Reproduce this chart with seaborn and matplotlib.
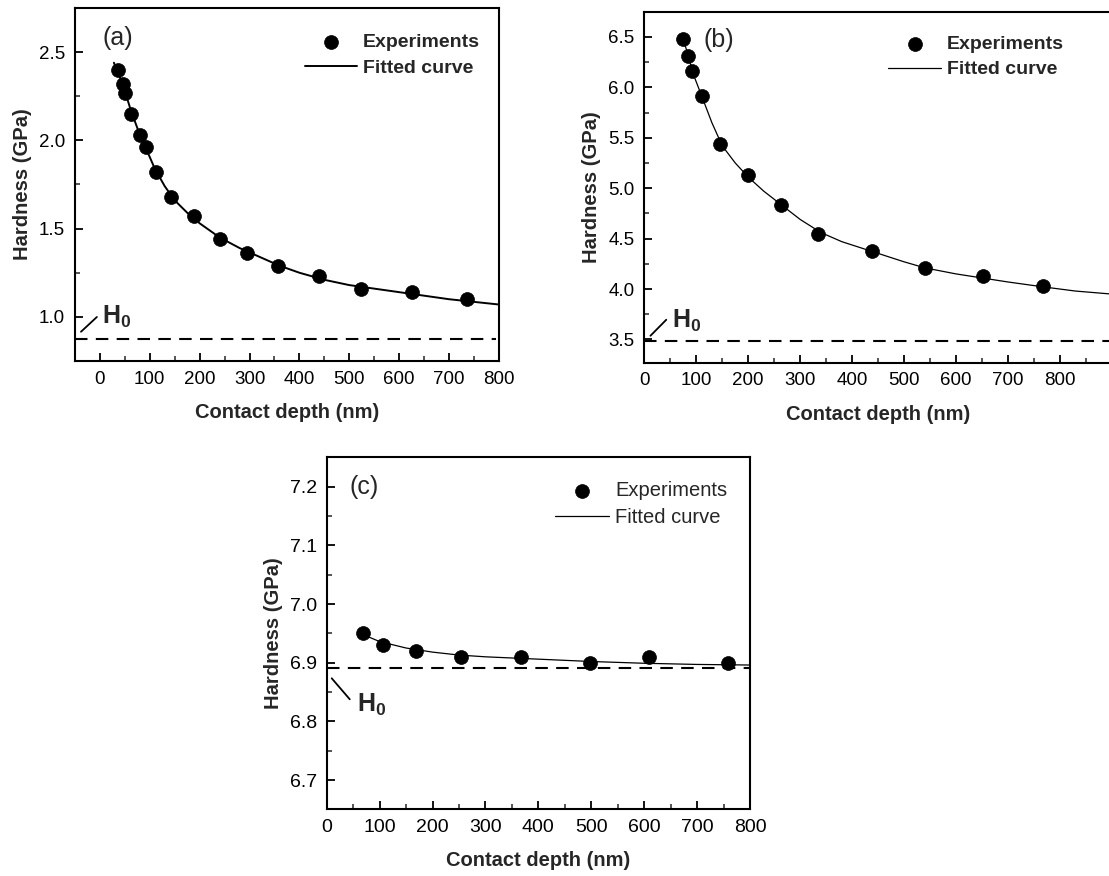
import numpy as np
import pandas as pd
import seaborn as sns
import matplotlib.pyplot as plt
from matplotlib.ticker import MultipleLocator

# ---- panel (a) ----
depth_a = [36, 47, 51, 63, 80, 92, 113, 143, 189, 240, 295, 357, 439, 523, 625, 735]
hard_a = [2.40, 2.32, 2.27, 2.15, 2.03, 1.96, 1.82, 1.68, 1.57, 1.44, 1.36, 1.29, 1.23, 1.16, 1.14, 1.10]
fit_x_a = [28, 40, 50, 62, 75, 90, 110, 130, 150, 175, 200, 240, 280, 320, 360, 400,
           450, 500, 550, 600, 650, 700, 750, 800]
fit_y_a = [2.44, 2.36, 2.28, 2.17, 2.07, 1.97, 1.84, 1.74, 1.66, 1.59, 1.53, 1.45, 1.39,
           1.34, 1.29, 1.25, 1.21, 1.18, 1.16, 1.14, 1.12, 1.10, 1.085, 1.07]
h0_a = 0.877

# ---- panel (b) ----
depth_b = [74, 84, 92, 111, 145, 199, 264, 335, 439, 540, 652, 768]
hard_b = [6.48, 6.31, 6.16, 5.91, 5.44, 5.13, 4.83, 4.55, 4.38, 4.21, 4.13, 4.03]
fit_x_b = [74, 85, 95, 110, 130, 150, 175, 200, 230, 265, 300, 340, 380, 440, 500, 540,
           600, 650, 700, 770, 830, 900]
fit_y_b = [6.50, 6.30, 6.12, 5.92, 5.65, 5.42, 5.25, 5.11, 4.97, 4.83, 4.69, 4.56, 4.47,
           4.37, 4.27, 4.21, 4.15, 4.11, 4.07, 4.02, 3.98, 3.95]
h0_b = 3.48

# ---- panel (c) ----
depth_c = [68, 107, 168, 254, 368, 497, 610, 758]
hard_c = [6.95, 6.93, 6.92, 6.91, 6.91, 6.90, 6.91, 6.90]
fit_x_c = [63, 100, 150, 200, 250, 300, 400, 500, 600, 700, 800]
fit_y_c = [6.950, 6.936, 6.925, 6.918, 6.913, 6.910, 6.906, 6.902, 6.899, 6.897, 6.896]
h0_c = 6.891

sns.set_theme(style="ticks")
plt.rcParams['font.family'] = ['Liberation Sans', 'DejaVu Sans']
plt.rcParams['mathtext.fontset'] = 'custom'
plt.rcParams['mathtext.bf'] = 'Liberation Sans:bold'
plt.rcParams['mathtext.rm'] = 'Liberation Sans'

fig = plt.figure(figsize=(11.09, 8.76), dpi=100)
ax_a = fig.add_axes([0.0676, 0.5879, 0.3823, 0.403])
ax_b = fig.add_axes([0.581, 0.586, 0.4215, 0.4007])
ax_c = fig.add_axes([0.2946, 0.0761, 0.3817, 0.4018])


def draw_panel(ax, dx, hy, fx, fy, h0, fit_lw, tick_size, h0_end=1.0):
    sns.scatterplot(x=dx, y=hy, ax=ax, color='black', s=100, edgecolor='black',
                    linewidth=0.5, label='Experiments', zorder=3)
    sns.lineplot(x=fx, y=fy, ax=ax, color='black', lw=fit_lw, estimator=None,
                 sort=False, label='Fitted curve', zorder=2)
    ax.axhline(h0, xmax=h0_end, color='black', lw=1.5, dashes=(6, 4), zorder=1)
    for s in ax.spines.values():
        s.set_linewidth(1.5)
        s.set_color('black')
    ax.tick_params(which='major', direction='in', length=6, width=1.3, pad=7,
                   labelsize=tick_size, colors='black', top=False, right=False)
    ax.tick_params(which='minor', direction='in', length=3.5, width=1.1,
                   top=False, right=False)
    ax.set_xlabel('Contact depth (nm)', fontsize=14.5, fontweight='bold', labelpad=11)
    ax.set_ylabel('Hardness (GPa)', fontsize=14.5, fontweight='bold', labelpad=5)
    ax.xaxis.set_minor_locator(MultipleLocator(50))
    ax.xaxis.set_major_locator(MultipleLocator(100))


def add_legend(ax, anchor, bold, size):
    h, l = ax.get_legend_handles_labels()
    ax.legend(h, l, loc='upper right', bbox_to_anchor=anchor, frameon=False,
              borderpad=0, handlelength=2.7, handletextpad=0.3, labelspacing=0.4,
              prop={'size': size, 'weight': 'bold' if bold else 'normal'})


# (a)
draw_panel(ax_a, depth_a, hard_a, fit_x_a, fit_y_a, h0_a, 1.4, 13.5, h0_end=0.994)
ax_a.set_xlim(-50, 800)
ax_a.set_ylim(0.75, 2.75)
ax_a.yaxis.set_minor_locator(MultipleLocator(0.25))
ax_a.set_yticks([1.0, 1.5, 2.0, 2.5])
ax_a.set_xticks(range(0, 801, 100))
add_legend(ax_a, (0.978, 0.955), True, 14)
ax_a.text(0.066, 0.95, '(a)', transform=ax_a.transAxes, fontsize=18, va='top')
ax_a.annotate('', xy=(-42, 0.905), xytext=(-2, 1.01),
              arrowprops=dict(arrowstyle='-', lw=1.3, color='black'))
ax_a.text(5, 0.962, r'$\mathbf{H_0}$', fontsize=18, va='baseline')

# (b)
draw_panel(ax_b, depth_b, hard_b, fit_x_b, fit_y_b, h0_b, 0.9, 13.5)
ax_b.set_xlim(0, 900)
ax_b.set_ylim(3.27, 6.75)
ax_b.yaxis.set_major_locator(MultipleLocator(0.5))
ax_b.yaxis.set_minor_locator(MultipleLocator(0.25))
ax_b.set_xticks(range(0, 801, 100))
add_legend(ax_b, (0.918, 0.96), True, 14)
ax_b.text(0.126, 0.953, '(b)', transform=ax_b.transAxes, fontsize=18, va='top')
ax_b.annotate('', xy=(8, 3.517), xytext=(46, 3.715),
              arrowprops=dict(arrowstyle='-', lw=1.3, color='black'))
ax_b.text(53, 3.616, r'$\mathbf{H_0}$', fontsize=18, va='baseline')

# (c)
draw_panel(ax_c, depth_c, hard_c, fit_x_c, fit_y_c, h0_c, 0.9, 14, h0_end=0.997)
ax_c.set_xlim(0, 800)
ax_c.set_ylim(6.65, 7.25)
ax_c.yaxis.set_major_locator(MultipleLocator(0.1))
ax_c.yaxis.set_minor_locator(MultipleLocator(0.05))
ax_c.set_xticks(range(0, 801, 100))
add_legend(ax_c, (0.97, 0.962), False, 14.5)
ax_c.text(0.053, 0.95, '(c)', transform=ax_c.transAxes, fontsize=18, va='top')
ax_c.annotate('', xy=(6, 6.877), xytext=(47, 6.834),
              arrowprops=dict(arrowstyle='-', lw=1.3, color='black'))
ax_c.text(58, 6.817, r'$\mathbf{H_0}$', fontsize=18, va='baseline')

fig.savefig('out.png', dpi=100)
